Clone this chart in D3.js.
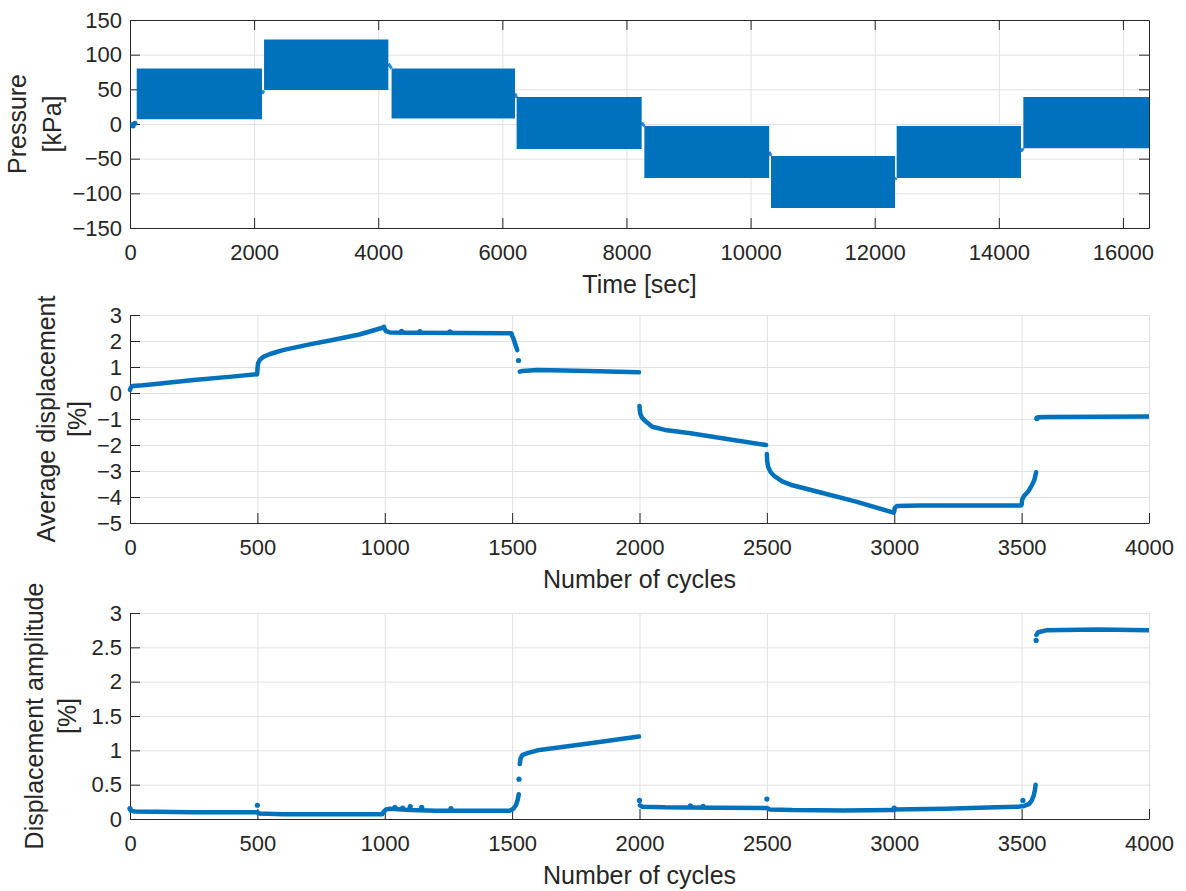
<!DOCTYPE html>
<html>
<head>
<meta charset="utf-8">
<script src="https://cdn.jsdelivr.net/npm/d3@7"></script>
<style>
  body { margin: 0; background: #fff; }
  text { font-family: "Liberation Sans", Arial, sans-serif; fill: #262626; }
</style>
</head>
<body>
<div id="chart"></div>
<script>
// ---- pressure test (top) ----
// each block: oscillation envelope between a min and max pressure
const blockStart = [108, 2160, 4215, 6230, 8288, 10329, 12354, 14395];
const blockEnd   = [2127, 4163, 6204, 8245, 10300, 12327, 14357, 16420];
const blockMin   = [7, 49, 8, -36, -78, -121, -78, -35];
const blockMax   = [80, 122, 80, 39, -3, -46, -3, 39];
// short traces between blocks: [t0, p0, t1, p1]
const pressureJoins = [
  [0, 0, 100, 2],
  [2127, 44, 2160, 48],
  [4163, 87, 4215, 80],
  [6204, 44, 6230, 38],
  [8245, 2, 8288, -3],
  [10300, -40, 10329, -46],
  [12327, -80, 12354, -78],
  [14357, -40, 14395, -35]
];
const pressureLeadDots = [[50, -3], [80, 1]];
const timeTicks = [0, 2000, 4000, 6000, 8000, 10000, 12000, 14000, 16000];
const pressureTicks = [-150, -100, -50, 0, 50, 100, 150];

// ---- average displacement (middle), segments of [cycle, %] ----
const avgDisp = [
  [[0, 0.12], [3, 0.2], [10, 0.27], [50, 0.3], [100, 0.35], [250, 0.5], [400, 0.63], [497, 0.72]],
  [[499, 0.72], [500, 0.85], [501, 1.0], [503, 1.15], [510, 1.28], [525, 1.4], [550, 1.5], [600, 1.65],
   [700, 1.86], [800, 2.05], [900, 2.25], [995, 2.52]],
  [[997, 2.55], [1000, 2.45], [1005, 2.38], [1020, 2.33], [1100, 2.32], [1300, 2.31], [1497, 2.3],
   [1500, 2.2], [1505, 2.1], [1510, 1.95], [1515, 1.8], [1520, 1.65]],
  [[1530, 0.82], [1540, 0.85], [1600, 0.88], [1800, 0.85], [1998, 0.8]],
  [[2000, -0.5], [2001, -0.65], [2003, -0.8], [2010, -0.95], [2025, -1.1], [2050, -1.3], [2100, -1.42],
   [2200, -1.55], [2350, -1.78], [2497, -2.0]],
  [[2500, -2.35], [2501, -2.6], [2505, -2.85], [2515, -3.05], [2530, -3.2], [2560, -3.4], [2600, -3.55],
   [2700, -3.8], [2850, -4.18], [2997, -4.6]],
  [[3000, -4.55], [3002, -4.42], [3010, -4.35], [3100, -4.33], [3300, -4.33], [3497, -4.33]],
  [[3500, -4.3], [3502, -4.1], [3510, -3.95], [3525, -3.8], [3540, -3.55], [3550, -3.35], [3557, -3.05]],
  [[3560, -1.0], [3565, -0.93], [3600, -0.92], [3800, -0.91], [4000, -0.9]]
];
const avgDispDots = [[1066, 2.37], [1138, 2.36], [1256, 2.35], [1525, 1.25], [3560, -0.97]];
const avgTicks = [-5, -4, -3, -2, -1, 0, 1, 2, 3];

// ---- displacement amplitude (bottom) ----
const ampDisp = [
  [[0, 0.15], [3, 0.12], [20, 0.11], [250, 0.1], [497, 0.1]],
  [[500, 0.1], [505, 0.08], [600, 0.07], [800, 0.07], [990, 0.07]],
  [[995, 0.1], [1005, 0.14], [1020, 0.15], [1100, 0.13], [1200, 0.12], [1490, 0.12], [1505, 0.15],
   [1515, 0.2], [1522, 0.28], [1526, 0.36]],
  [[1530, 0.8], [1533, 0.88], [1540, 0.93], [1560, 0.96], [1600, 1.0], [1800, 1.1], [1998, 1.2]],
  [[2002, 0.2], [2010, 0.18], [2100, 0.17], [2300, 0.165], [2497, 0.16]],
  [[2502, 0.16], [2510, 0.14], [2600, 0.13], [2800, 0.125], [3000, 0.13]],
  [[3000, 0.14], [3200, 0.15], [3400, 0.17], [3490, 0.18], [3510, 0.19], [3530, 0.22], [3540, 0.27],
   [3548, 0.35], [3552, 0.42], [3555, 0.5]],
  [[3558, 2.68], [3565, 2.72], [3600, 2.75], [3800, 2.76], [4000, 2.75]]
];
const ampDots = [[0, 0.15], [500, 0.2], [1040, 0.17], [1070, 0.16], [1100, 0.18], [1145, 0.17],
  [1260, 0.15], [1527, 0.58], [2000, 0.27], [2200, 0.19], [2250, 0.185], [2500, 0.29],
  [3000, 0.16], [3505, 0.27], [3557, 2.6]];
const ampTicks = [0, 0.5, 1, 1.5, 2, 2.5, 3];
const cycleTicks = [0, 500, 1000, 1500, 2000, 2500, 3000, 3500, 4000];

// ---- layout ----
const blue = '#0072BD';
const left = 130, plotW = 1019;
const fmt = d3.format('~g');

const svg = d3.select('#chart')
  .append('svg')
  .attr('width', 1186)
  .attr('height', 891);

const makePanel = (cfg) => {
  const g = svg.append('g').attr('transform', `translate(${left},${cfg.top})`);
  const x = d3.scaleLinear().domain(cfg.xDomain).range([0, plotW]);
  const y = d3.scaleLinear().domain(cfg.yDomain).range([cfg.h, 0]);

  // grid
  const grid = g.append('g').attr('class', 'grid');
  grid.append('g').call(d3.axisLeft(y).tickValues(cfg.yTicks).tickSize(-plotW).tickFormat(''));
  grid.append('g').attr('transform', `translate(0,${cfg.h})`)
    .call(d3.axisBottom(x).tickValues(cfg.xTicks).tickSize(-cfg.h).tickFormat(''));
  grid.selectAll('.domain').remove();
  grid.selectAll('line').attr('stroke', '#e2e2e2').attr('stroke-width', 1);

  // axes (ticks pointing inwards)
  g.append('g').attr('transform', `translate(0,${cfg.h})`)
    .call(d3.axisBottom(x).tickValues(cfg.xTicks).tickFormat(fmt)
      .tickSizeInner(-10).tickSizeOuter(0).tickPadding(16));
  g.append('g')
    .call(d3.axisLeft(y).tickValues(cfg.yTicks).tickFormat(fmt)
      .tickSizeInner(-10).tickSizeOuter(0).tickPadding(8));
  if (cfg.box) {
    g.append('g').call(d3.axisTop(x).tickValues(cfg.xTicks).tickSizeInner(-10).tickSizeOuter(0).tickFormat(''));
    g.append('g').attr('transform', `translate(${plotW},0)`)
      .call(d3.axisRight(y).tickValues(cfg.yTicks).tickSizeInner(-10).tickSizeOuter(0).tickFormat(''));
  }
  g.selectAll('.domain').attr('stroke', '#262626');
  g.selectAll('.tick line').filter(function () { return !this.closest('.grid'); })
    .attr('stroke', '#262626');
  g.selectAll('.tick text').attr('font-size', 22).attr('font-family', '"Liberation Sans", Arial, sans-serif')
    .attr('fill', '#262626');

  // axis labels
  g.append('text')
    .attr('x', plotW / 2)
    .attr('y', cfg.h + 65)
    .attr('text-anchor', 'middle')
    .attr('font-size', 25)
    .text(cfg.xLabel);
  cfg.yLabel.forEach((line, i) => {
    g.append('text')
      .attr('transform', `translate(${cfg.yLabelX[i] - left},${cfg.h / 2}) rotate(-90)`)
      .attr('text-anchor', 'middle')
      .attr('font-size', 25)
      .text(line);
  });

  // clip region for data
  const clipId = 'clip' + cfg.top;
  g.append('clipPath').attr('id', clipId)
    .append('rect').attr('x', -3).attr('y', -3).attr('width', plotW + 3).attr('height', cfg.h + 6);
  const data = g.append('g').attr('clip-path', `url(#${clipId})`);

  return { g, x, y, data };
};

// ---- top: pressure ----
const p1 = makePanel({
  top: 20, h: 208, xDomain: [0, 16420], yDomain: [-150, 150],
  xTicks: timeTicks, yTicks: pressureTicks, box: true,
  xLabel: 'Time [sec]', yLabel: ['Pressure', '[kPa]'], yLabelX: [26, 61]
});

const blocks = blockStart.map((s, i) => ({ s, e: blockEnd[i], lo: blockMin[i], hi: blockMax[i] }));
const band = d3.area()
  .x(d => p1.x(d.t))
  .y0(d => p1.y(d.lo))
  .y1(d => p1.y(d.hi));
p1.data.selectAll('.block')
  .data(blocks)
  .join('path')
  .attr('class', 'block')
  .attr('d', b => band([{ t: b.s, lo: b.lo, hi: b.hi }, { t: b.e, lo: b.lo, hi: b.hi }]))
  .attr('fill', blue);

p1.data.selectAll('.join')
  .data(pressureJoins)
  .join('line')
  .attr('class', 'join')
  .attr('x1', d => p1.x(d[0])).attr('y1', d => p1.y(d[1]))
  .attr('x2', d => p1.x(d[2])).attr('y2', d => p1.y(d[3]))
  .attr('stroke', blue).attr('stroke-width', 3).attr('opacity', 0.85);

p1.data.selectAll('.lead')
  .data(pressureLeadDots)
  .join('circle')
  .attr('cx', d => p1.x(d[0])).attr('cy', d => p1.y(d[1]))
  .attr('r', 2.5).attr('fill', blue);

// ---- scatter-style panels ----
const drawTrace = (panel, segments, dots) => {
  const line = d3.line().x(d => panel.x(d[0])).y(d => panel.y(d[1]));
  panel.data.selectAll('.seg')
    .data(segments)
    .join('path')
    .attr('class', 'seg')
    .attr('d', line)
    .attr('fill', 'none')
    .attr('stroke', blue)
    .attr('stroke-width', 4.5)
    .attr('stroke-linecap', 'round')
    .attr('stroke-linejoin', 'round');
  panel.data.selectAll('.dot')
    .data(dots)
    .join('circle')
    .attr('class', 'dot')
    .attr('cx', d => panel.x(d[0]))
    .attr('cy', d => panel.y(d[1]))
    .attr('r', 2.6)
    .attr('fill', blue);
};

const p2 = makePanel({
  top: 315, h: 208, xDomain: [0, 4000], yDomain: [-5, 3],
  xTicks: cycleTicks, yTicks: avgTicks, box: false,
  xLabel: 'Number of cycles', yLabel: ['Average displacement', '[%]'], yLabelX: [55, 86]
});
drawTrace(p2, avgDisp, avgDispDots);

const p3 = makePanel({
  top: 613, h: 206, xDomain: [0, 4000], yDomain: [0, 3],
  xTicks: cycleTicks, yTicks: ampTicks, box: false,
  xLabel: 'Number of cycles', yLabel: ['Displacement amplitude', '[%]'], yLabelX: [43, 76]
});
drawTrace(p3, ampDisp, ampDots);
</script>
</body>
</html>
